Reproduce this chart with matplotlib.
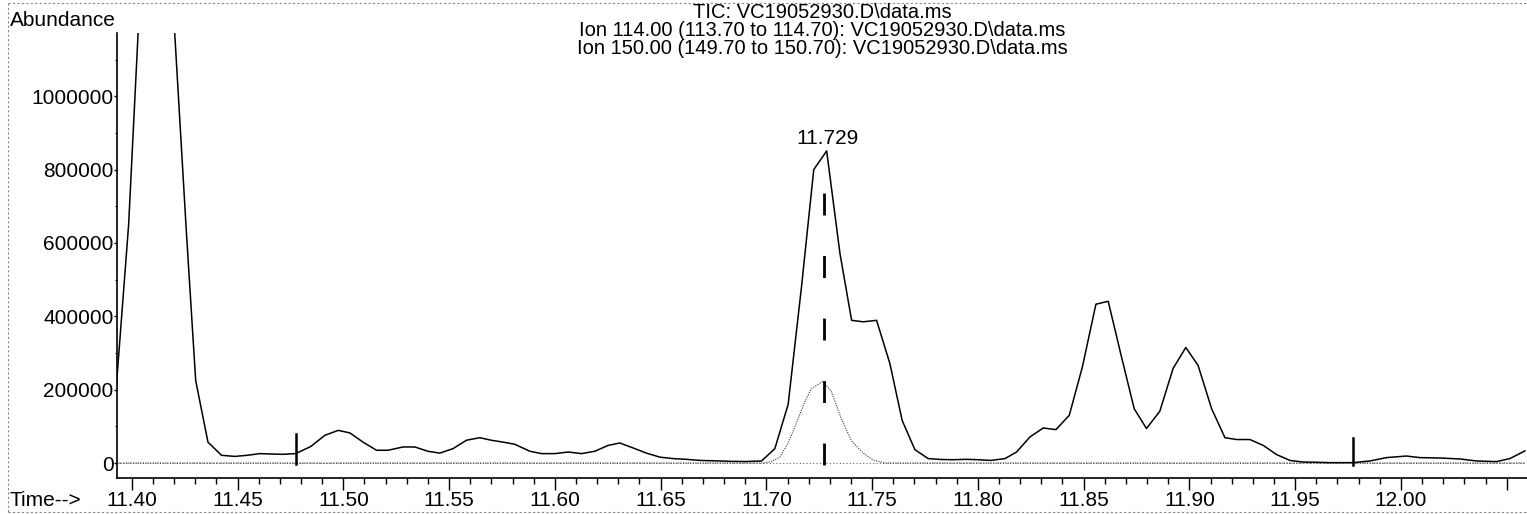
import matplotlib
matplotlib.use("Agg")
import matplotlib.pyplot as plt
from matplotlib.ticker import MultipleLocator
from matplotlib.lines import Line2D

# ---------------- data ----------------
tic_time = [11.3925, 11.3985, 11.4045, 11.4105, 11.4160, 11.4200, 11.4258, 11.4302,
            11.4360, 11.4424, 11.4487, 11.4546, 11.4605, 11.4660, 11.4714, 11.4775,
            11.4846, 11.4913, 11.4976, 11.5031, 11.5093, 11.5157, 11.5211, 11.5282,
            11.5338, 11.5400, 11.5456, 11.5518, 11.5582, 11.5645, 11.5700, 11.5755,
            11.5811, 11.5882, 11.5937, 11.6000, 11.6063, 11.6126, 11.6189, 11.6252,
            11.6307, 11.6370, 11.6433, 11.6496, 11.6559, 11.6622, 11.6686, 11.6750,
            11.6827, 11.6900, 11.6977, 11.7040, 11.7103, 11.7166, 11.7224, 11.7285,
            11.7348, 11.7403, 11.7458, 11.7521, 11.7584, 11.7642, 11.7702, 11.7765,
            11.7830, 11.7882, 11.7945, 11.8000, 11.8060, 11.8128, 11.8183, 11.8246,
            11.8309, 11.8369, 11.8432, 11.8494, 11.8558, 11.8616, 11.8679, 11.8739,
            11.8797, 11.8860, 11.8923, 11.8983, 11.9041, 11.9105, 11.9168, 11.9223,
            11.9286, 11.9349, 11.9412, 11.9475, 11.9538, 11.9600, 11.9660, 11.9720,
            11.9774, 11.9853, 11.9932, 12.0026, 12.0090, 12.0184, 12.0279, 12.0358,
            12.0452, 12.0515, 12.0586]
tic_abund = [195000, 650000, 1350000, 2000000, 1700000, 1200000, 630000, 225000,
             57000, 21000, 18000, 21000, 25600, 24500, 23700, 25600,
             45000, 75600, 89000, 82000, 57000, 34700, 34700, 43700,
             43700, 32000, 27000, 39000, 62000, 69000, 62000, 57000,
             51000, 32000, 25600, 25600, 30000, 25600, 32000, 48000,
             54600, 41000, 27000, 16000, 12000, 10000, 7000, 6000,
             4600, 4000, 5500, 39000, 160000, 480000, 800000, 851000,
             571000, 389000, 385000, 389000, 271000, 116000, 36500, 12000,
             9500, 9000, 10000, 9000, 7000, 12000, 30000, 71000,
             95500, 91000, 130000, 262000, 433000, 441000, 289000, 148000,
             94000, 141000, 258000, 315000, 266000, 148000, 69000, 64000,
             64000, 48000, 23000, 7000, 2700, 2000, 1000, 1000,
             1000, 5500, 14700, 19000, 14700, 13600, 11000, 5500,
             3800, 12000, 33000]

ion114_time = [11.3925, 11.6977, 11.7020, 11.7064, 11.7103, 11.7143, 11.7180,
               11.7213, 11.7268, 11.7307, 11.7355, 11.7403, 11.7458, 11.7505,
               11.7560, 12.0586]
ion114_abund = [0, 0, 3000, 16000, 55000, 110000, 165000,
                203000, 223000, 195000, 120000, 60000, 27000, 8000,
                0, 0]

ion150_time = [11.3925, 12.0586]
ion150_abund = [0, 0]

event_times = [11.4775, 11.9774]
event_low = [-2000, -6000]
event_high = [78000, 69000]

peak_rt = 11.729
peak_abund = 851000
rt_marker_time = 11.7272
rt_marker_range = [-6000, 736000]

x_major = [11.40, 11.45, 11.50, 11.55, 11.60, 11.65, 11.70, 11.75, 11.80,
           11.85, 11.90, 11.95, 12.00]
x_labels = ["11.40", "11.45", "11.50", "11.55", "11.60", "11.65", "11.70",
            "11.75", "11.80", "11.85", "11.90", "11.95", "12.00"]
y_major = [0, 200000, 400000, 600000, 800000, 1000000]

title_lines = ["TIC: VC19052930.D\\data.ms",
               "Ion 114.00 (113.70 to 114.70): VC19052930.D\\data.ms",
               "Ion 150.00 (149.70 to 150.70): VC19052930.D\\data.ms"]

# ---------------- figure ----------------
W, H = 1527, 514
plt.rcParams['font.family'] = ['Liberation Sans', 'DejaVu Sans']
FS = 15
FS_TITLE = 14.5

fig = plt.figure(figsize=(W / 100, H / 100), dpi=100)
fig.patch.set_facecolor('white')

def fx(px):
    return px / W

def fy(py):
    return 1 - py / H

ax = fig.add_axes([fx(117), fy(478), fx(1527 - 117), (478 - 33) / H])
ax.set_xlim(11.393, 12.0596)
ax.set_ylim(-40900, 1172500)

for s in ['top', 'right']:
    ax.spines[s].set_visible(False)
for s in ['left', 'bottom']:
    ax.spines[s].set_linewidth(1.2)
    ax.spines[s].set_color('black')

# traces
ax.plot(ion150_time, ion150_abund, color='#666666', lw=0.8,
        linestyle=(0, (1, 2)), clip_on=True)
ax.plot(ion114_time, ion114_abund, color='#333333', lw=0.8,
        linestyle=(0, (1, 1.2)), clip_on=True)
ax.plot(tic_time, tic_abund, color='black', lw=1.1, clip_on=True)

# integration event markers
for t, lo, hi in zip(event_times, event_low, event_high):
    ax.plot([t, t], [lo, hi], color='black', lw=1.8)

# retention time marker
ax.plot([rt_marker_time, rt_marker_time], rt_marker_range, color='black', lw=2.0,
        linestyle=(0, (7.9, 14.6)))

ax.annotate(f"{peak_rt:.3f}", xy=(peak_rt, peak_abund), xytext=(0, 2),
            textcoords='offset points', ha='center', va='bottom', fontsize=FS)

# ticks
ax.set_xticks(x_major + [12.05], x_labels + [""])
ax.xaxis.set_minor_locator(MultipleLocator(0.01))
ax.tick_params(axis='x', which='major', direction='out', length=8.5, width=1.0,
               labelsize=FS, pad=1.0)
ax.tick_params(axis='x', which='minor', direction='out', length=4.3, width=1.0)
ax.set_yticks(y_major, [str(v) for v in y_major])
ax.yaxis.set_minor_locator(MultipleLocator(100000))
ax.tick_params(axis='y', which='major', direction='out', length=2, width=1.0,
               labelsize=FS, pad=0.5)
ax.tick_params(axis='y', which='minor', direction='out', length=1.2, width=0.8)

# texts
fig.text(fx(10), fy(20), "Abundance", fontsize=FS, ha='left', va='center')
fig.text(fx(10), fy(500), "Time-->", fontsize=FS, ha='left', va='center')
for i, line in enumerate(title_lines):
    fig.text(fx(822), fy(13 + 18 * i), line, fontsize=FS_TITLE, ha='center',
             va='center')

# scan frame
frame_kw = dict(color='#888888', lw=0.8, linestyle=(0, (2, 2)), transform=fig.transFigure)
fig.add_artist(Line2D([fx(8), fx(1526)], [fy(3), fy(3)], **frame_kw))
fig.add_artist(Line2D([fx(8), fx(8)], [fy(3), fy(512)], **frame_kw))
fig.add_artist(Line2D([fx(8), fx(1526)], [fy(512), fy(512)], **frame_kw))

fig.savefig("out.png", dpi=100)
